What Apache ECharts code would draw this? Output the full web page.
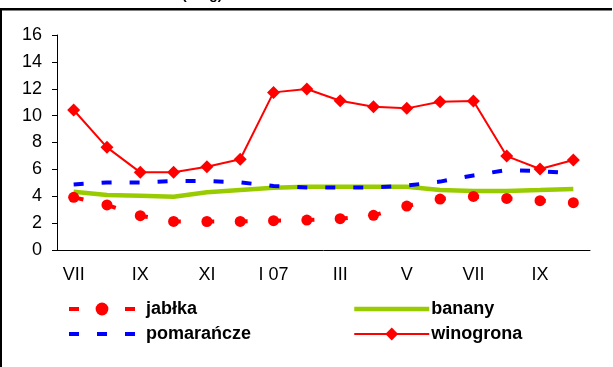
<!DOCTYPE html>
<html><head><meta charset="utf-8">
<script src="https://cdn.jsdelivr.net/npm/echarts@6/dist/echarts.min.js"></script>
<style>html,body{margin:0;padding:0;background:#fff}#c{width:613px;height:367px}</style>
</head><body><div id="c"></div>
<script>
const categories = ['VII','VIII','IX','X','XI','XII','I 07','II','III','IV','V','VI','VII','VIII','IX','X'];
const jablka     = [3.92,3.35,2.55,2.13,2.12,2.13,2.18,2.23,2.33,2.58,3.27,3.79,3.99,3.84,3.67,3.52];
const banany     = [4.34,4.09,4.04,3.97,4.29,4.46,4.63,4.71,4.71,4.71,4.71,4.46,4.39,4.39,4.46,4.54];
const pomarancze = [4.88,5.03,5.03,5.13,5.13,5.03,4.76,4.66,4.64,4.66,4.79,5.09,5.55,5.95,5.87,5.70];
const winogrona  = [10.42,7.64,5.78,5.78,6.2,6.75,11.73,11.98,11.11,10.66,10.54,11.04,11.09,6.99,6.03,6.7];
const yTicks = {min:0, max:16, interval:2};

const chart = echarts.init(document.getElementById('c'), null, {renderer:'canvas'});
const font = 'Arial, "Liberation Sans", sans-serif';
chart.setOption({
  animation:false,
  backgroundColor:'#fff',
  title:{text:'(zł/kg)', left:177, top:-17, textStyle:{fontFamily:font,fontSize:14,fontWeight:'bold',color:'#000'}},
  graphic:[
    {type:'rect', shape:{x:0,y:8,width:612,height:2.5}, style:{fill:'#000'}, z:100},
    {type:'rect', shape:{x:0,y:8,width:2,height:359}, style:{fill:'#000'}, z:100}
  ],
  grid:{left:57, right:23, top:35, bottom:117},
  xAxis:{type:'category', data:categories, boundaryGap:true,
    axisLine:{lineStyle:{color:'#000',width:1}},
    axisTick:{interval:0,length:5,lineStyle:{color:'#000'}},
    axisLabel:{interval:1, margin:16, fontFamily:font, fontSize:18, color:'#000'}},
  yAxis:{type:'value', min:yTicks.min, max:yTicks.max, interval:yTicks.interval,
    splitLine:{show:false},
    axisLine:{show:true,lineStyle:{color:'#000',width:1}},
    axisTick:{show:true,length:5,lineStyle:{color:'#000'}},
    axisLabel:{margin:15, fontFamily:font, fontSize:18, color:'#000'}},
  legend:[
    {data:[
       {name:'jabłka', lineStyle:{width:4, type:[10,18]}},
       {name:'pomarańcze', lineStyle:{width:4, type:[10,18]}, itemStyle:{opacity:0}}
     ], orient:'vertical', left:62, top:295, itemWidth:66, itemHeight:16, itemGap:7,
     textStyle:{fontFamily:font,fontSize:18,fontWeight:'bold',color:'#000',padding:[0,0,0,6]}},
    {data:[
       {name:'banany', lineStyle:{width:4.5}, itemStyle:{opacity:0}},
       {name:'winogrona', lineStyle:{width:2}}
     ], orient:'vertical', left:347, top:295, itemWidth:75, itemHeight:16, itemGap:7,
     textStyle:{fontFamily:font,fontSize:18,fontWeight:'bold',color:'#000',padding:[0,0,0,-3]}}
  ],
  series:[
    {name:'jabłka', type:'line', data:jablka, symbol:'circle', symbolSize:11, showAllSymbol:true,
     lineStyle:{color:'#FF0000', width:4, type:[10,23.4]}, itemStyle:{color:'#FF0000'}, z:4},
    {name:'pomarańcze', type:'line', data:pomarancze, symbol:'none',
     lineStyle:{color:'#0000FF', width:4, type:[10,18]}, itemStyle:{color:'#0000FF'}, z:3},
    {name:'banany', type:'line', data:banany, symbol:'none',
     lineStyle:{color:'#99CC00', width:4.5}, itemStyle:{color:'#99CC00'}, z:2},
    {name:'winogrona', type:'line', data:winogrona, symbol:'diamond', symbolSize:13, showAllSymbol:true,
     lineStyle:{color:'#FF0000', width:2}, itemStyle:{color:'#FF0000'}, z:5}
  ]
});
</script></body></html>
